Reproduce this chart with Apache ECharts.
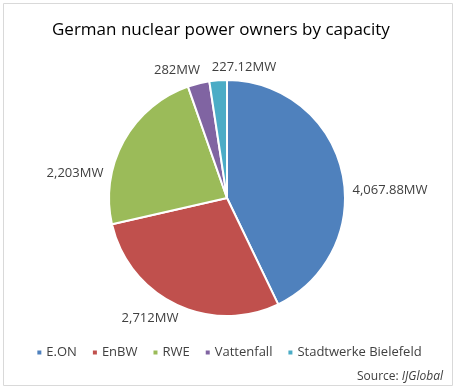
<!DOCTYPE html>
<html><head><meta charset="utf-8">
<script src="https://cdn.jsdelivr.net/npm/echarts@6/dist/echarts.min.js"></script>
<style>html,body{margin:0;padding:0;background:#fff}#c{width:457px;height:390px}</style>
</head><body><div id="c"></div>
<script>
const categories = ['E.ON', 'EnBW', 'RWE', 'Vattenfall', 'Stadtwerke Bielefeld'];
const values = [4067.88, 2712, 2203, 282, 227.12];
const labels = ['4,067.88MW', '2,712MW', '2,203MW', '282MW', '227.12MW'];
const colors = ['#4F81BD', '#C0504D', '#9BBB59', '#8064A2', '#4BACC6'];
const font = "'Open Sans', sans-serif";
const CX = 227, CY = 198, R = 118;
// label centre offsets from the pie centre (layout only)
const labelOffsets = [[163, -8], [-77, 120], [-152, -25], [-50, -128], [17, -131]];
const chart = echarts.init(document.getElementById('c'));
chart.setOption({
  animation: false,
  color: colors,
  title: {
    text: 'German nuclear power owners by capacity',
    left: 47, top: 17,
    textStyle: { fontFamily: font, fontSize: 17, fontWeight: 'normal', color: '#000' }
  },
  legend: {
    bottom: 26, left: 'center',
    itemWidth: 6, itemHeight: 6, itemGap: 14,
    icon: 'rect',
    textStyle: { fontFamily: font, fontSize: 13, color: '#404040', padding: [0, 0, 0, -1] },
    data: categories
  },
  graphic: [
    { type: 'rect', shape: { x: 3.5, y: 3.5, width: 449, height: 382 }, style: { fill: 'none', stroke: '#d9d9d9', lineWidth: 1 }, silent: true },
    { type: 'text', right: 14, bottom: 7, style: { rich: { n: { fontFamily: font, fontSize: 12, fill: '#404040' }, i: { fontFamily: font, fontSize: 12, fontStyle: 'italic', fill: '#404040' } }, text: '{n|Source: }{i|IJGlobal}' } }
  ],
  series: [{
    type: 'pie',
    center: [CX, CY],
    radius: R,
    startAngle: 90,
    clockwise: true,
    itemStyle: { borderColor: '#fff', borderWidth: 2 },
    label: {
      show: true, position: 'outside',
      fontFamily: font, fontSize: 13, color: '#404040',
      formatter: p => labels[p.dataIndex]
    },
    labelLine: { show: false, length: 6, length2: 0 },
    labelLayout: p => ({
      x: CX + labelOffsets[p.dataIndex][0],
      y: CY + labelOffsets[p.dataIndex][1],
      align: 'center', verticalAlign: 'middle'
    }),
    data: categories.map((c, i) => ({ name: c, value: values[i] }))
  }]
});
</script></body></html>
